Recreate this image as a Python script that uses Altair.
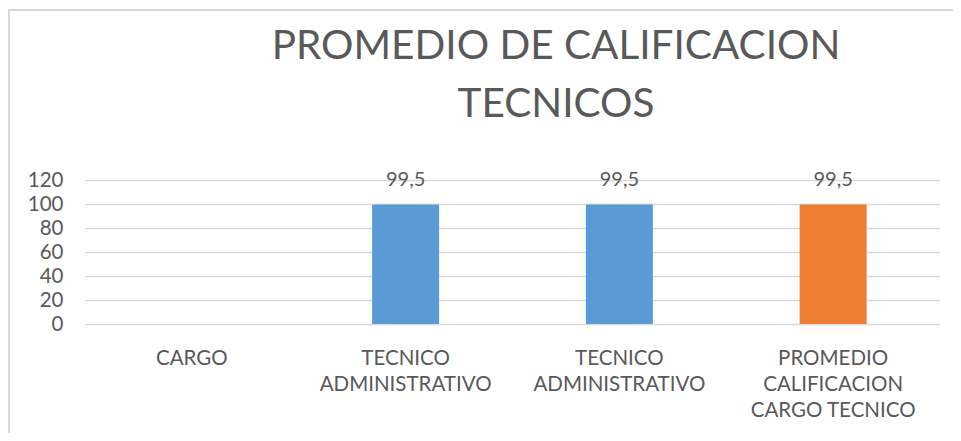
import json
import altair as alt
import pandas as pd

categories = ["CARGO", "TECNICO|ADMINISTRATIVO", "TECNICO|ADMINISTRATIVO",
              "PROMEDIO|CALIFICACION|CARGO  TECNICO"]
values = [None, 99.5, 99.5, 99.5]
colors = ["#5B9BD5", "#5B9BD5", "#5B9BD5", "#ED7D31"]
y_ticks = [0, 20, 40, 60, 80, 100, 120]
title_lines = ["PROMEDIO DE CALIFICACION", "TECNICOS"]

df = pd.DataFrame({
    "idx": list(range(len(categories))),
    "value": values,
    "color": colors,
    "label": [("" if v is None else str(v).replace(".", ",")) for v in values],
})
df_title = pd.DataFrame({"line": title_lines})

label_expr = "split(" + json.dumps(categories) + "[datum.value], '|')"

FONT = "Lato"
GRAY = "#595959"

x = alt.X("idx:O", title=None,
          scale=alt.Scale(domain=list(range(len(categories)))),
          axis=alt.Axis(labelExpr=label_expr, labelAngle=0, labelFontSize=20.5,
                        labelColor=GRAY, labelFont=FONT, labelPadding=24,
                        labelLineHeight=26, ticks=False, domain=False,
                        grid=False, labelBaseline="top"))
y = alt.Y("value:Q", title=None,
          scale=alt.Scale(domain=[0, 120]),
          axis=alt.Axis(values=y_ticks, labelFontSize=20.5, labelColor=GRAY,
                        labelFont=FONT, ticks=False, domain=False,
                        labelPadding=22, gridColor="#d9d9d9", gridWidth=1.5))

base = alt.Chart(df)
bars = base.mark_bar(size=67).encode(
    x=x, y=y, color=alt.Color("color:N", scale=None)
)
texts = base.mark_text(baseline="alphabetic", dy=-19, fontSize=20, color=GRAY,
                       font=FONT).encode(x=x, y=y, text="label:N")

title1 = alt.Chart(df_title.iloc[[0]]).mark_text(
    fontSize=40.5, font=FONT, color=GRAY, baseline="alphabetic", align="center"
).encode(x=alt.value(471), y=alt.value(-121), text="line:N")
title2 = alt.Chart(df_title.iloc[[1]]).mark_text(
    fontSize=40.5, font=FONT, color=GRAY, baseline="alphabetic", align="center"
).encode(x=alt.value(471), y=alt.value(-63), text="line:N")

border_v = base.mark_rule(color="#d9d9d9", strokeWidth=2).encode(
    x=alt.value(-76), y=alt.value(-171), y2=alt.value(260))
border_h = base.mark_rule(color="#d9d9d9", strokeWidth=2).encode(
    x=alt.value(-76), x2=alt.value(875), y=alt.value(-170))

chart = alt.layer(bars, texts, title1, title2, border_v, border_h).properties(
    width=855, height=144,
    background="white",
    autosize=alt.AutoSizeParams(type="none"),
    padding={"left": 77, "top": 172, "right": 13, "bottom": 109},
).configure_view(stroke=None)

chart.save("out.html", embed_options={"renderer": "svg", "actions": False})
